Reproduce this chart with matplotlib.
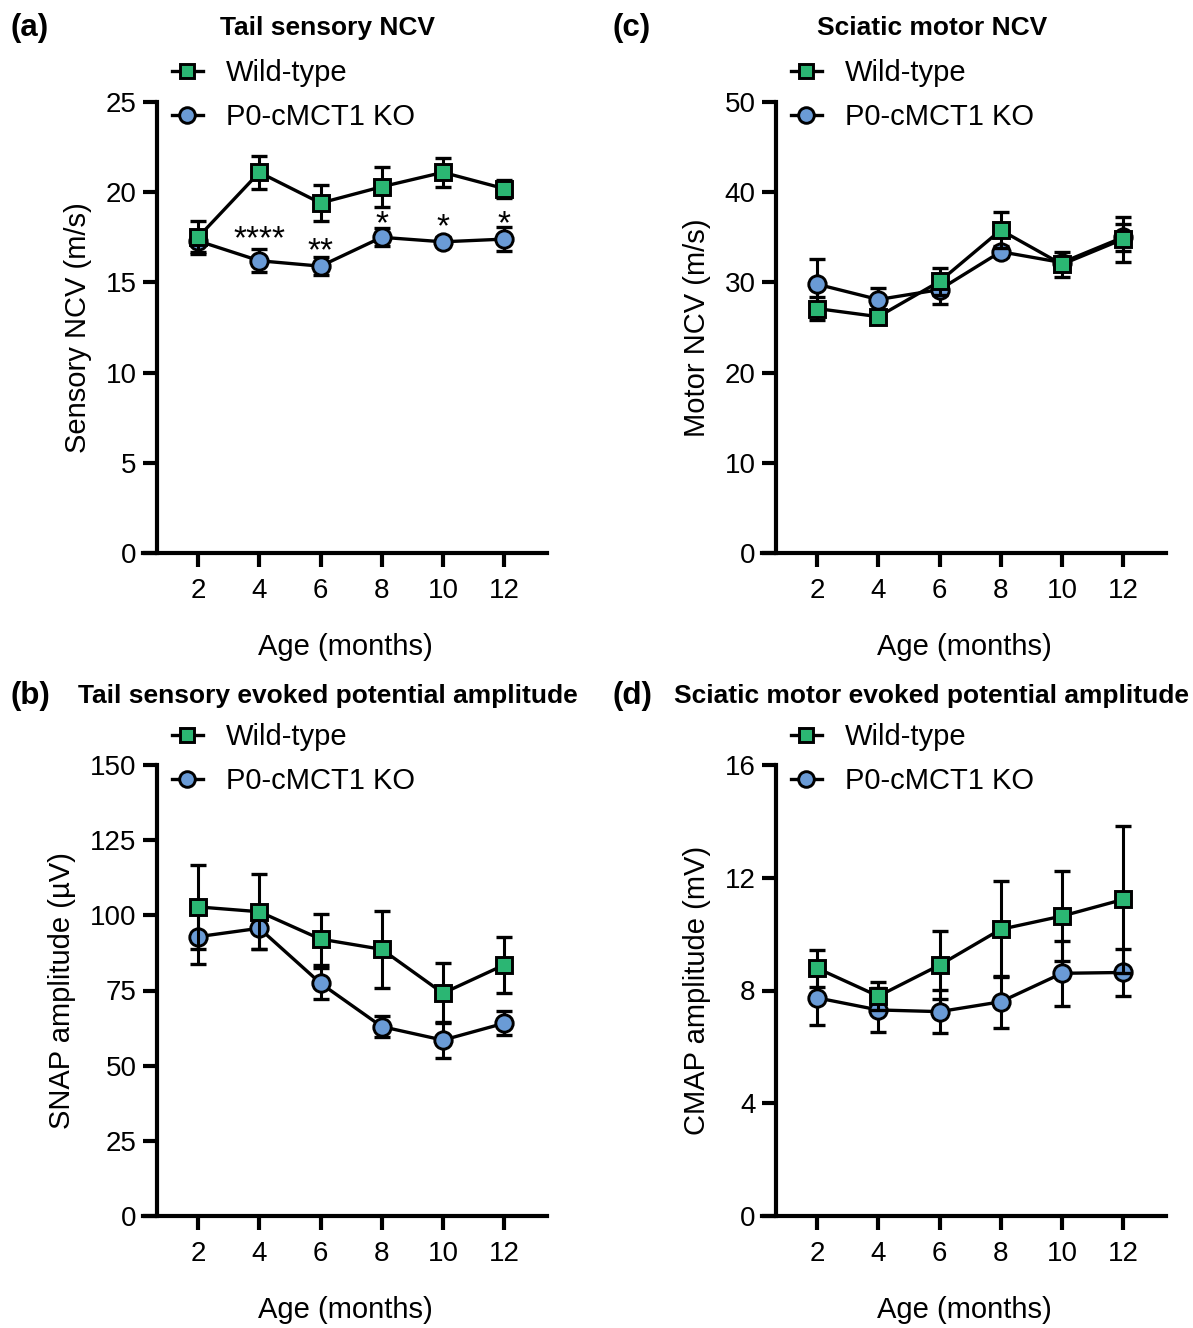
import matplotlib.pyplot as plt

# Data
age = [2, 4, 6, 8, 10, 12]

# (a) Tail sensory NCV (m/s)
sens_ncv_wt = [17.5, 21.1, 19.4, 20.3, 21.1, 20.2]
sens_ncv_wt_err = [0.9, 0.9, 1.0, 1.1, 0.8, 0.5]
sens_ncv_ko = [17.3, 16.2, 15.9, 17.5, 17.25, 17.4]
sens_ncv_ko_err = [0.6, 0.65, 0.5, 0.5, 0.25, 0.65]
stars = ["", "****", "**", "*", "*", "*"]
star_y = [0, 16.9, 16.2, 17.7, 17.55, 17.75]

# (b) Tail SNAP amplitude (uV)
snap_wt = [102.8, 101.2, 92.1, 88.7, 74.1, 83.5]
snap_wt_err = [14.0, 12.5, 8.5, 12.8, 10.0, 9.2]
snap_ko = [92.9, 95.7, 77.4, 63.0, 58.5, 64.1]
snap_ko_err = [9.0, 7.0, 5.2, 3.5, 6.0, 4.0]

# (c) Sciatic motor NCV (m/s)
mot_ncv_wt = [27.1, 26.2, 30.1, 35.8, 32.0, 34.8]
mot_ncv_wt_err = [1.3, 0.5, 1.5, 2.0, 1.4, 2.5]
mot_ncv_ko = [29.8, 28.1, 29.2, 33.4, 32.2, 35.0]
mot_ncv_ko_err = [2.8, 1.3, 1.6, 0.6, 0.5, 1.5]

# (d) Sciatic CMAP amplitude (mV)
cmap_wt = [8.79, 7.8, 8.9, 10.17, 10.64, 11.23]
cmap_wt_err = [0.65, 0.5, 1.2, 1.7, 1.6, 2.6]
cmap_ko = [7.74, 7.31, 7.25, 7.6, 8.61, 8.64]
cmap_ko_err = [0.95, 0.77, 0.77, 0.92, 1.16, 0.84]

GREEN = "#2bb673"
BLUE = "#6a9bd6"
W, H = 1193, 1328

plt.rcParams["font.family"] = ["Liberation Sans", "DejaVu Sans"]

fig = plt.figure(figsize=(W / 100, H / 100), dpi=100)


def px_axes(left, top):
    # axes box given in pixels of the reference
    return fig.add_axes([left / W, 1 - (top + 451) / H, 404 / W, 451 / H])


def draw_panel(ax, wt, wt_err, ko, ko_err, ymax, yticks, ylabel):
    handles = []
    for vals, errs, color, marker, z in [(ko, ko_err, BLUE, "o", 3),
                                         (wt, wt_err, GREEN, "s", 5)]:
        ax.errorbar(age, vals, yerr=errs, fmt="none", ecolor="black",
                    elinewidth=2.2, capsize=5.8, capthick=2.4, zorder=z,
                    clip_on=False)
        ln, = ax.plot(age, vals, color="black", lw=2.4, marker=marker,
                      markersize=11.5 if marker == "s" else 12.5,
                      markerfacecolor=color, markeredgecolor="black",
                      markeredgewidth=2.1, zorder=z + 0.5, clip_on=False)
        handles.append(ln)
    ax.set_xlim(0.2, 13.4)
    ax.set_ylim(0, ymax)
    ax.set_xticks(age)
    ax.set_yticks(yticks)
    ax.spines["top"].set_visible(False)
    ax.spines["right"].set_visible(False)
    ax.spines["left"].set_position(("data", 0.67))
    for s in ["left", "bottom"]:
        ax.spines[s].set_linewidth(3)
        ax.spines[s].set_capstyle("projecting")
    ax.tick_params(axis="both", length=10, width=3, labelsize=20, pad=5)
    ax.tick_params(axis="x", pad=8)
    ax.set_xlabel("Age (months)", fontsize=21, labelpad=21)
    ax.set_ylabel(ylabel, fontsize=21, labelpad=10)
    # Wild-type first in the legend
    return handles[::-1]


def add_legend(ax, handles, x, y):
    # x: left of handle, y: top of first row (pixels)
    ax.legend(handles, ["Wild-type", "P0-cMCT1 KO"],
              loc="upper left", bbox_to_anchor=(x / W, 1 - y / H),
              bbox_transform=fig.transFigure, frameon=False, fontsize=21,
              handlelength=1.05, handletextpad=0.8, labelspacing=0.55,
              borderpad=0, borderaxespad=0, markerscale=0.9)


ax_a = px_axes(143, 102)
h = draw_panel(ax_a, sens_ncv_wt, sens_ncv_wt_err, sens_ncv_ko, sens_ncv_ko_err,
               25, [0, 5, 10, 15, 20, 25], "Sensory NCV (m/s)")
add_legend(ax_a, h, 172, 59)
for x, s, y in zip(age, stars, star_y):
    if s:
        ax_a.text(x, y, s, ha="center", va="baseline", fontsize=24, zorder=10)

ax_b = px_axes(143, 765)
h = draw_panel(ax_b, snap_wt, snap_wt_err, snap_ko, snap_ko_err,
               150, [0, 25, 50, 75, 100, 125, 150], "SNAP amplitude (\u00b5V)")
add_legend(ax_b, h, 172, 723)

ax_c = px_axes(762, 102)
h = draw_panel(ax_c, mot_ncv_wt, mot_ncv_wt_err, mot_ncv_ko, mot_ncv_ko_err,
               50, [0, 10, 20, 30, 40, 50], "Motor NCV (m/s)")
add_legend(ax_c, h, 791, 59)

ax_d = px_axes(762, 765)
h = draw_panel(ax_d, cmap_wt, cmap_wt_err, cmap_ko, cmap_ko_err,
               16, [0, 4, 8, 12, 16], "CMAP amplitude (mV)")
add_legend(ax_d, h, 791, 723)

# titles and panel letters
titles = [("Tail sensory NCV", 328, 28), ("Sciatic motor NCV", 932, 28),
          ("Tail sensory evoked potential amplitude", 328, 696),
          ("Sciatic motor evoked potential amplitude", 932, 696)]
for t, x, y in titles:
    fig.text(x / W, 1 - y / H, t, ha="center", va="center", fontsize=19,
             fontweight="bold")

for t, x, y in [("(a)", 11, 28), ("(c)", 613, 28), ("(b)", 11, 696), ("(d)", 613, 696)]:
    fig.text(x / W, 1 - y / H, t, ha="left", va="center", fontsize=22.5,
             fontweight="bold")

fig.savefig("out.png", dpi=100)
